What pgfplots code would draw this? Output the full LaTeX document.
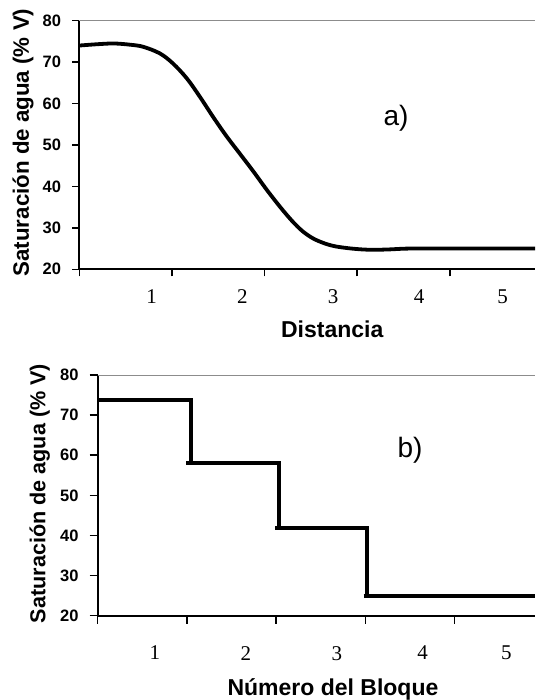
\documentclass[border=0pt]{standalone}
\usepackage{pgfplots}
\pgfplotsset{compat=1.18}
\usepackage{fontspec}
\setmainfont{Liberation Sans}
\newfontfamily\serifnum{Liberation Serif}
\newcommand\yt[1]{\mbox{\fontsize{16.5}{18}\selectfont\bfseries #1}}
\newcommand\xt[1]{\mbox{\serifnum\fontsize{21}{24}\selectfont #1}}
\begin{document}
\begin{tikzpicture}
\useasboundingbox (0,0) rectangle (535pt,700pt);
\pgfplotsset{
  common/.style={
    scale only axis,
    anchor=south west,
    axis x line*=bottom,
    axis y line*=left,
    axis line style={line width=1.8pt},
    tick style={line width=1.5pt, black},
    tick align=outside,
    ymin=20, ymax=80,
    ytick={20,30,40,50,60,70,80},
    yticklabels={\yt{20},\yt{30},\yt{40},\yt{50},\yt{60},\yt{70},\yt{80}},
    yticklabel style={inner sep=0pt, xshift=-11pt},
    xtick={0,1,2,3,4,5},
    xticklabels={},
    extra x tick labels={\xt{1},\xt{2},\xt{3},\xt{4},\xt{5}},
    clip=true,
  },
}
% ---------- a) ----------
\begin{axis}[common,
  at={(79.3pt,430.7pt)},
  width=455.7pt, height=248.6pt,
  xmin=0, xmax=4.92,
  major tick length=7pt,
  extra x ticks={0.78,1.76,2.74,3.67,4.57},
  extra x tick style={major tick length=0pt, xticklabel style={anchor=north, inner sep=0pt, yshift=-20.3pt}},
  every axis x label/.style={at={(axis description cs:0.555,0)}, anchor=base, yshift=-68pt, font=\fontsize{23}{27}\selectfont\bfseries},
  every axis y label/.style={at={(axis description cs:-0.1104,0.51)}, rotate=90, anchor=base, font=\fontsize{22.3}{27}\selectfont\bfseries},
  xlabel={Distancia},
  ylabel={Saturación de agua (\% V)},
]
\addplot[black, line width=3.8pt, smooth, tension=0.55] coordinates {
(0,74.0) (0.18,74.3) (0.37,74.5) (0.55,74.2) (0.69,73.7) (0.87,72.1) (1.01,69.7)
(1.16,66.1) (1.30,61.7) (1.45,56.6) (1.59,52.1) (1.73,48.0) (1.88,43.6) (2.02,39.3)
(2.17,35.0) (2.30,31.6) (2.41,29.2) (2.52,27.5) (2.63,26.4) (2.75,25.6) (2.90,25.1)
(3.05,24.8) (3.18,24.7) (3.35,24.8) (3.56,25.0) (4.0,25.0) (4.5,25.0) (4.92,25.0)
};
\draw[black!45, line width=1.3pt] (rel axis cs:0,1) -- (rel axis cs:1,1);
\node[font=\fontsize{28}{30}\selectfont] at (axis cs:3.42,56.4) {a)};
\end{axis}
% ---------- b) ----------
\begin{axis}[common,
  at={(97.7pt,84.3pt)},
  width=437.3pt, height=240.7pt,
  xmin=0, xmax=4.90,
  major tick length=8pt,
  extra x ticks={0.64,1.66,2.68,3.64,4.58},
  extra x tick style={major tick length=0pt, xticklabel style={anchor=north, inner sep=0pt, yshift=-30.2pt}},
  every axis x label/.style={at={(axis description cs:0.538,0)}, anchor=base, yshift=-79.8pt, font=\fontsize{23}{27}\selectfont\bfseries},
  every axis y label/.style={at={(axis description cs:-0.1196,0.508)}, rotate=90, anchor=base, font=\fontsize{21.6}{27}\selectfont\bfseries},
  xlabel={Número del Bloque},
  ylabel={Saturación de agua (\% V)},
]
\addplot[black, line width=4pt] coordinates {(0,73.8) (1.05,73.8) (1.05,58.0)};
\addplot[black, line width=4pt] coordinates {(0.99,58.0) (2.03,58.0) (2.03,41.9)};
\addplot[black, line width=4pt] coordinates {(1.99,41.9) (3.02,41.9) (3.02,25.0)};
\addplot[black, line width=4pt] coordinates {(2.98,25.0) (4.90,25.0)};
\draw[black!45, line width=1.3pt] (rel axis cs:0,1) -- (rel axis cs:1,1);
\node[font=\fontsize{28}{30}\selectfont] at (axis cs:3.50,61.3) {b)};
\end{axis}
\end{tikzpicture}
\end{document}
